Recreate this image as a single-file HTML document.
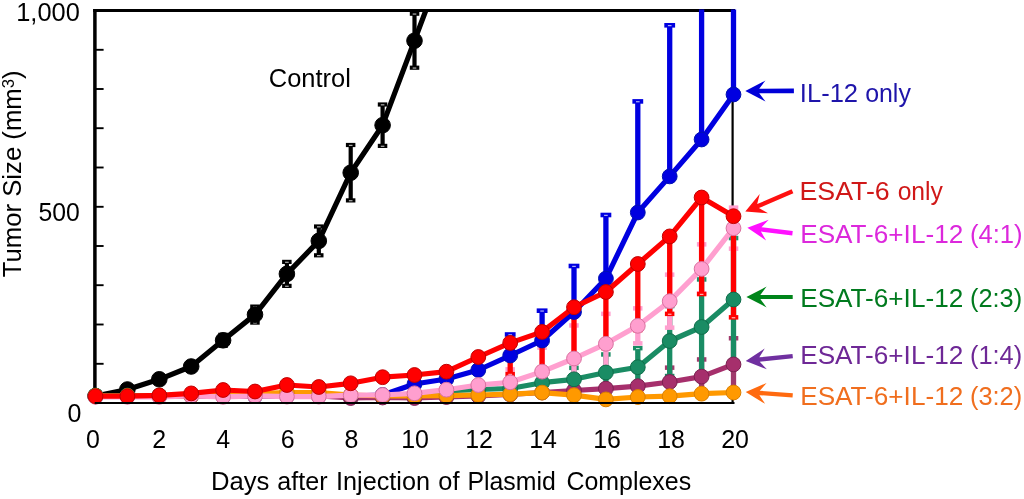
<!DOCTYPE html>
<html><head><meta charset="utf-8"><style>
html,body{margin:0;padding:0;background:#fff;}
body{width:1024px;height:499px;overflow:hidden;}
svg{display:block;will-change:transform;font-family:"Liberation Sans", sans-serif;font-size:26px;}
</style></head><body>
<svg width="1024" height="499" viewBox="0 0 1024 499">
<defs><clipPath id="plot"><rect x="0" y="9.5" width="1024" height="499"/></clipPath></defs>
<g fill="none" stroke="#000">
<line x1="94.9" y1="9.0" x2="94.9" y2="403.5" stroke-width="3.5"/>
<line x1="93.2" y1="10.5" x2="735" y2="10.5" stroke-width="2.9"/>
<line x1="732.6" y1="10.5" x2="732.6" y2="403" stroke-width="2.2"/>
<line x1="95" y1="363.8" x2="103.6" y2="363.8" stroke-width="1.9"/>
<line x1="95" y1="324.5" x2="103.6" y2="324.5" stroke-width="1.9"/>
<line x1="95" y1="285.2" x2="103.6" y2="285.2" stroke-width="1.9"/>
<line x1="95" y1="246.0" x2="103.6" y2="246.0" stroke-width="1.9"/>
<line x1="95" y1="206.8" x2="103.6" y2="206.8" stroke-width="1.9"/>
<line x1="95" y1="167.5" x2="103.6" y2="167.5" stroke-width="1.9"/>
<line x1="95" y1="128.2" x2="103.6" y2="128.2" stroke-width="1.9"/>
<line x1="95" y1="89.0" x2="103.6" y2="89.0" stroke-width="1.9"/>
<line x1="95" y1="49.8" x2="103.6" y2="49.8" stroke-width="1.9"/>
</g>
<g clip-path="url(#plot)">
<line x1="669.7" y1="367.6" x2="669.7" y2="396.4" stroke="#a03a6c" stroke-width="5.3"/>
<rect x="664.9" y="365.4" width="9.5" height="4.5" fill="#a03a6c"/>
<rect x="667.9" y="367.4" width="3.6" height="1.1" fill="#fff" fill-opacity="0.75"/>
<rect x="664.9" y="394.1" width="9.5" height="4.5" fill="#a03a6c"/>
<rect x="667.9" y="396.2" width="3.6" height="1.1" fill="#fff" fill-opacity="0.75"/>
<line x1="701.6" y1="359.5" x2="701.6" y2="393.7" stroke="#a03a6c" stroke-width="5.3"/>
<rect x="696.9" y="357.2" width="9.5" height="4.5" fill="#a03a6c"/>
<rect x="699.8" y="359.3" width="3.6" height="1.1" fill="#fff" fill-opacity="0.75"/>
<rect x="696.9" y="391.5" width="9.5" height="4.5" fill="#a03a6c"/>
<rect x="699.8" y="393.5" width="3.6" height="1.1" fill="#fff" fill-opacity="0.75"/>
<line x1="733.5" y1="338.3" x2="733.5" y2="390.5" stroke="#a03a6c" stroke-width="5.3"/>
<rect x="728.8" y="336.0" width="9.5" height="4.5" fill="#a03a6c"/>
<rect x="731.7" y="338.1" width="3.6" height="1.1" fill="#fff" fill-opacity="0.75"/>
<rect x="728.8" y="388.2" width="9.5" height="4.5" fill="#a03a6c"/>
<rect x="731.7" y="390.3" width="3.6" height="1.1" fill="#fff" fill-opacity="0.75"/>
<line x1="574.0" y1="367.8" x2="574.0" y2="390.8" stroke="#1a8c64" stroke-width="5.3"/>
<rect x="569.2" y="365.6" width="9.5" height="4.5" fill="#1a8c64"/>
<rect x="572.2" y="367.6" width="3.6" height="1.1" fill="#fff" fill-opacity="0.75"/>
<rect x="569.2" y="388.6" width="9.5" height="4.5" fill="#1a8c64"/>
<rect x="572.2" y="390.6" width="3.6" height="1.1" fill="#fff" fill-opacity="0.75"/>
<line x1="605.9" y1="354.5" x2="605.9" y2="390.5" stroke="#1a8c64" stroke-width="5.3"/>
<rect x="601.1" y="352.2" width="9.5" height="4.5" fill="#1a8c64"/>
<rect x="604.1" y="354.3" width="3.6" height="1.1" fill="#fff" fill-opacity="0.75"/>
<rect x="601.1" y="388.2" width="9.5" height="4.5" fill="#1a8c64"/>
<rect x="604.1" y="390.3" width="3.6" height="1.1" fill="#fff" fill-opacity="0.75"/>
<line x1="637.8" y1="348.2" x2="637.8" y2="386.2" stroke="#1a8c64" stroke-width="5.3"/>
<rect x="633.0" y="345.9" width="9.5" height="4.5" fill="#1a8c64"/>
<rect x="636.0" y="348.0" width="3.6" height="1.1" fill="#fff" fill-opacity="0.75"/>
<rect x="633.0" y="383.9" width="9.5" height="4.5" fill="#1a8c64"/>
<rect x="636.0" y="386.0" width="3.6" height="1.1" fill="#fff" fill-opacity="0.75"/>
<line x1="669.7" y1="306.0" x2="669.7" y2="376.0" stroke="#1a8c64" stroke-width="5.3"/>
<rect x="664.9" y="303.8" width="9.5" height="4.5" fill="#1a8c64"/>
<rect x="667.9" y="305.8" width="3.6" height="1.1" fill="#fff" fill-opacity="0.75"/>
<rect x="664.9" y="373.8" width="9.5" height="4.5" fill="#1a8c64"/>
<rect x="667.9" y="375.8" width="3.6" height="1.1" fill="#fff" fill-opacity="0.75"/>
<line x1="701.6" y1="279.5" x2="701.6" y2="374.5" stroke="#1a8c64" stroke-width="5.3"/>
<rect x="696.9" y="277.2" width="9.5" height="4.5" fill="#1a8c64"/>
<rect x="699.8" y="279.3" width="3.6" height="1.1" fill="#fff" fill-opacity="0.75"/>
<rect x="696.9" y="372.2" width="9.5" height="4.5" fill="#1a8c64"/>
<rect x="699.8" y="374.3" width="3.6" height="1.1" fill="#fff" fill-opacity="0.75"/>
<line x1="733.5" y1="238.1" x2="733.5" y2="360.9" stroke="#1a8c64" stroke-width="5.3"/>
<rect x="728.8" y="235.8" width="9.5" height="4.5" fill="#1a8c64"/>
<rect x="731.7" y="237.9" width="3.6" height="1.1" fill="#fff" fill-opacity="0.75"/>
<rect x="728.8" y="358.6" width="9.5" height="4.5" fill="#1a8c64"/>
<rect x="731.7" y="360.7" width="3.6" height="1.1" fill="#fff" fill-opacity="0.75"/>
<line x1="510.2" y1="369.3" x2="510.2" y2="395.3" stroke="#ff9fcf" stroke-width="5.3"/>
<rect x="505.4" y="367.1" width="9.5" height="4.5" fill="#ff9fcf"/>
<rect x="505.4" y="393.1" width="9.5" height="4.5" fill="#ff9fcf"/>
<line x1="542.1" y1="347.6" x2="542.1" y2="395.6" stroke="#ff9fcf" stroke-width="5.3"/>
<rect x="537.3" y="345.4" width="9.5" height="4.5" fill="#ff9fcf"/>
<rect x="537.3" y="393.4" width="9.5" height="4.5" fill="#ff9fcf"/>
<line x1="574.0" y1="325.5" x2="574.0" y2="391.5" stroke="#ff9fcf" stroke-width="5.3"/>
<rect x="569.2" y="323.2" width="9.5" height="4.5" fill="#ff9fcf"/>
<rect x="569.2" y="389.2" width="9.5" height="4.5" fill="#ff9fcf"/>
<line x1="605.9" y1="313.8" x2="605.9" y2="373.8" stroke="#ff9fcf" stroke-width="5.3"/>
<rect x="601.1" y="311.6" width="9.5" height="4.5" fill="#ff9fcf"/>
<rect x="601.1" y="371.6" width="9.5" height="4.5" fill="#ff9fcf"/>
<line x1="637.8" y1="308.3" x2="637.8" y2="343.3" stroke="#ff9fcf" stroke-width="5.3"/>
<rect x="633.0" y="306.1" width="9.5" height="4.5" fill="#ff9fcf"/>
<rect x="633.0" y="341.1" width="9.5" height="4.5" fill="#ff9fcf"/>
<line x1="669.7" y1="274.7" x2="669.7" y2="327.7" stroke="#ff9fcf" stroke-width="5.3"/>
<rect x="664.9" y="272.4" width="9.5" height="4.5" fill="#ff9fcf"/>
<rect x="664.9" y="325.4" width="9.5" height="4.5" fill="#ff9fcf"/>
<line x1="701.6" y1="244.4" x2="701.6" y2="293.4" stroke="#ff9fcf" stroke-width="5.3"/>
<rect x="696.9" y="242.1" width="9.5" height="4.5" fill="#ff9fcf"/>
<rect x="696.9" y="291.1" width="9.5" height="4.5" fill="#ff9fcf"/>
<line x1="733.5" y1="207.7" x2="733.5" y2="248.7" stroke="#ff9fcf" stroke-width="5.3"/>
<rect x="728.8" y="205.4" width="9.5" height="4.5" fill="#ff9fcf"/>
<rect x="728.8" y="246.4" width="9.5" height="4.5" fill="#ff9fcf"/>
<line x1="510.2" y1="342.9" x2="510.2" y2="374.0" stroke="#ff0000" stroke-width="5.3"/>
<rect x="505.4" y="371.8" width="9.5" height="4.5" fill="#ff0000"/>
<rect x="508.4" y="373.8" width="3.6" height="1.1" fill="#fff" fill-opacity="0.75"/>
<line x1="542.1" y1="331.9" x2="542.1" y2="368.0" stroke="#ff0000" stroke-width="5.3"/>
<rect x="537.3" y="365.8" width="9.5" height="4.5" fill="#ff0000"/>
<rect x="540.3" y="367.8" width="3.6" height="1.1" fill="#fff" fill-opacity="0.75"/>
<line x1="574.0" y1="307.2" x2="574.0" y2="360.0" stroke="#ff0000" stroke-width="5.3"/>
<rect x="569.2" y="357.8" width="9.5" height="4.5" fill="#ff0000"/>
<rect x="572.2" y="359.8" width="3.6" height="1.1" fill="#fff" fill-opacity="0.75"/>
<line x1="605.9" y1="292.0" x2="605.9" y2="348.0" stroke="#ff0000" stroke-width="5.3"/>
<rect x="601.1" y="345.8" width="9.5" height="4.5" fill="#ff0000"/>
<rect x="604.1" y="347.8" width="3.6" height="1.1" fill="#fff" fill-opacity="0.75"/>
<line x1="637.8" y1="264.0" x2="637.8" y2="330.0" stroke="#ff0000" stroke-width="5.3"/>
<rect x="633.0" y="327.8" width="9.5" height="4.5" fill="#ff0000"/>
<rect x="636.0" y="329.8" width="3.6" height="1.1" fill="#fff" fill-opacity="0.75"/>
<line x1="669.7" y1="236.4" x2="669.7" y2="313.9" stroke="#ff0000" stroke-width="5.3"/>
<rect x="664.9" y="311.6" width="9.5" height="4.5" fill="#ff0000"/>
<rect x="667.9" y="313.7" width="3.6" height="1.1" fill="#fff" fill-opacity="0.75"/>
<line x1="701.6" y1="197.5" x2="701.6" y2="294.0" stroke="#ff0000" stroke-width="5.3"/>
<rect x="696.9" y="291.8" width="9.5" height="4.5" fill="#ff0000"/>
<rect x="699.8" y="293.8" width="3.6" height="1.1" fill="#fff" fill-opacity="0.75"/>
<line x1="733.5" y1="216.2" x2="733.5" y2="317.4" stroke="#ff0000" stroke-width="5.3"/>
<rect x="728.8" y="315.1" width="9.5" height="4.5" fill="#ff0000"/>
<rect x="731.7" y="317.2" width="3.6" height="1.1" fill="#fff" fill-opacity="0.75"/>
<line x1="510.2" y1="334.5" x2="510.2" y2="355.5" stroke="#0000e0" stroke-width="5.3"/>
<rect x="504.8" y="332.2" width="10.8" height="4.6" fill="#0000e0"/>
<rect x="508.4" y="334.3" width="3.6" height="1.1" fill="#fff" fill-opacity="0.75"/>
<line x1="542.1" y1="310.7" x2="542.1" y2="340.5" stroke="#0000e0" stroke-width="5.3"/>
<rect x="536.7" y="308.4" width="10.8" height="4.6" fill="#0000e0"/>
<rect x="540.3" y="310.5" width="3.6" height="1.1" fill="#fff" fill-opacity="0.75"/>
<line x1="574.0" y1="266.0" x2="574.0" y2="312.0" stroke="#0000e0" stroke-width="5.3"/>
<rect x="568.6" y="263.7" width="10.8" height="4.6" fill="#0000e0"/>
<rect x="572.2" y="265.8" width="3.6" height="1.1" fill="#fff" fill-opacity="0.75"/>
<line x1="605.9" y1="215.0" x2="605.9" y2="278.6" stroke="#0000e0" stroke-width="5.3"/>
<rect x="600.5" y="212.7" width="10.8" height="4.6" fill="#0000e0"/>
<rect x="604.1" y="214.8" width="3.6" height="1.1" fill="#fff" fill-opacity="0.75"/>
<line x1="637.8" y1="101.4" x2="637.8" y2="212.5" stroke="#0000e0" stroke-width="5.3"/>
<rect x="632.4" y="99.1" width="10.8" height="4.6" fill="#0000e0"/>
<rect x="636.0" y="101.2" width="3.6" height="1.1" fill="#fff" fill-opacity="0.75"/>
<line x1="669.7" y1="25.3" x2="669.7" y2="176.4" stroke="#0000e0" stroke-width="5.3"/>
<rect x="664.3" y="23.0" width="10.8" height="4.6" fill="#0000e0"/>
<rect x="667.9" y="25.1" width="3.6" height="1.1" fill="#fff" fill-opacity="0.75"/>
<line x1="701.6" y1="0.0" x2="701.6" y2="139.5" stroke="#0000e0" stroke-width="5.3"/>
<rect x="696.2" y="-2.3" width="10.8" height="4.6" fill="#0000e0"/>
<rect x="699.8" y="-0.2" width="3.6" height="1.1" fill="#fff" fill-opacity="0.75"/>
<line x1="733.5" y1="0.0" x2="733.5" y2="94.5" stroke="#0000e0" stroke-width="5.3"/>
<rect x="728.1" y="-2.3" width="10.8" height="4.6" fill="#0000e0"/>
<rect x="731.7" y="-0.2" width="3.6" height="1.1" fill="#fff" fill-opacity="0.75"/>
<line x1="127.4" y1="387.5" x2="127.4" y2="391.5" stroke="#000" stroke-width="4.2"/>
<rect x="122.7" y="385.4" width="9.5" height="4.2" fill="#000"/>
<rect x="125.6" y="387.3" width="3.6" height="1.1" fill="#fff" fill-opacity="0.75"/>
<rect x="122.7" y="389.4" width="9.5" height="4.2" fill="#000"/>
<rect x="125.6" y="391.3" width="3.6" height="1.1" fill="#fff" fill-opacity="0.75"/>
<line x1="159.3" y1="376.3" x2="159.3" y2="382.3" stroke="#000" stroke-width="4.2"/>
<rect x="154.6" y="374.2" width="9.5" height="4.2" fill="#000"/>
<rect x="157.5" y="376.1" width="3.6" height="1.1" fill="#fff" fill-opacity="0.75"/>
<rect x="154.6" y="380.2" width="9.5" height="4.2" fill="#000"/>
<rect x="157.5" y="382.1" width="3.6" height="1.1" fill="#fff" fill-opacity="0.75"/>
<line x1="191.2" y1="362.5" x2="191.2" y2="370.5" stroke="#000" stroke-width="4.2"/>
<rect x="186.4" y="360.4" width="9.5" height="4.2" fill="#000"/>
<rect x="189.4" y="362.3" width="3.6" height="1.1" fill="#fff" fill-opacity="0.75"/>
<rect x="186.4" y="368.4" width="9.5" height="4.2" fill="#000"/>
<rect x="189.4" y="370.3" width="3.6" height="1.1" fill="#fff" fill-opacity="0.75"/>
<line x1="223.1" y1="334.8" x2="223.1" y2="345.8" stroke="#000" stroke-width="4.2"/>
<rect x="218.3" y="332.7" width="9.5" height="4.2" fill="#000"/>
<rect x="221.3" y="334.6" width="3.6" height="1.1" fill="#fff" fill-opacity="0.75"/>
<rect x="218.3" y="343.7" width="9.5" height="4.2" fill="#000"/>
<rect x="221.3" y="345.6" width="3.6" height="1.1" fill="#fff" fill-opacity="0.75"/>
<line x1="255.0" y1="306.6" x2="255.0" y2="322.6" stroke="#000" stroke-width="4.2"/>
<rect x="250.2" y="304.5" width="9.5" height="4.2" fill="#000"/>
<rect x="253.2" y="306.4" width="3.6" height="1.1" fill="#fff" fill-opacity="0.75"/>
<rect x="250.2" y="320.5" width="9.5" height="4.2" fill="#000"/>
<rect x="253.2" y="322.4" width="3.6" height="1.1" fill="#fff" fill-opacity="0.75"/>
<line x1="286.9" y1="261.9" x2="286.9" y2="285.9" stroke="#000" stroke-width="4.2"/>
<rect x="282.1" y="259.8" width="9.5" height="4.2" fill="#000"/>
<rect x="285.1" y="261.7" width="3.6" height="1.1" fill="#fff" fill-opacity="0.75"/>
<rect x="282.1" y="283.8" width="9.5" height="4.2" fill="#000"/>
<rect x="285.1" y="285.7" width="3.6" height="1.1" fill="#fff" fill-opacity="0.75"/>
<line x1="318.8" y1="226.5" x2="318.8" y2="255.3" stroke="#000" stroke-width="4.2"/>
<rect x="314.0" y="224.4" width="9.5" height="4.2" fill="#000"/>
<rect x="317.0" y="226.3" width="3.6" height="1.1" fill="#fff" fill-opacity="0.75"/>
<rect x="314.0" y="253.2" width="9.5" height="4.2" fill="#000"/>
<rect x="317.0" y="255.1" width="3.6" height="1.1" fill="#fff" fill-opacity="0.75"/>
<line x1="350.7" y1="145.0" x2="350.7" y2="200.4" stroke="#000" stroke-width="4.2"/>
<rect x="345.9" y="142.9" width="9.5" height="4.2" fill="#000"/>
<rect x="348.9" y="144.8" width="3.6" height="1.1" fill="#fff" fill-opacity="0.75"/>
<rect x="345.9" y="198.3" width="9.5" height="4.2" fill="#000"/>
<rect x="348.9" y="200.2" width="3.6" height="1.1" fill="#fff" fill-opacity="0.75"/>
<line x1="382.6" y1="104.5" x2="382.6" y2="145.9" stroke="#000" stroke-width="4.2"/>
<rect x="377.8" y="102.4" width="9.5" height="4.2" fill="#000"/>
<rect x="380.8" y="104.3" width="3.6" height="1.1" fill="#fff" fill-opacity="0.75"/>
<rect x="377.8" y="143.8" width="9.5" height="4.2" fill="#000"/>
<rect x="380.8" y="145.7" width="3.6" height="1.1" fill="#fff" fill-opacity="0.75"/>
<line x1="414.5" y1="13.7" x2="414.5" y2="67.7" stroke="#000" stroke-width="4.2"/>
<rect x="409.8" y="11.6" width="9.5" height="4.2" fill="#000"/>
<rect x="412.7" y="13.5" width="3.6" height="1.1" fill="#fff" fill-opacity="0.75"/>
<rect x="409.8" y="65.6" width="9.5" height="4.2" fill="#000"/>
<rect x="412.7" y="67.5" width="3.6" height="1.1" fill="#fff" fill-opacity="0.75"/>
<polyline points="95.5,396.0 127.4,389.5 159.3,379.3 191.2,366.5 223.1,340.3 255.0,314.6 286.9,273.9 318.8,240.9 350.7,172.7 382.6,125.2 414.5,40.7 446.4,-44.5" fill="none" stroke="#000" stroke-width="5.2" stroke-linejoin="round"/>
<circle cx="95.5" cy="396.0" r="7.800000000000001" fill="#000" stroke="#000" stroke-width="1"/>
<circle cx="127.4" cy="389.5" r="7.800000000000001" fill="#000" stroke="#000" stroke-width="1"/>
<circle cx="159.3" cy="379.3" r="7.800000000000001" fill="#000" stroke="#000" stroke-width="1"/>
<circle cx="191.2" cy="366.5" r="7.800000000000001" fill="#000" stroke="#000" stroke-width="1"/>
<circle cx="223.1" cy="340.3" r="7.800000000000001" fill="#000" stroke="#000" stroke-width="1"/>
<circle cx="255.0" cy="314.6" r="7.800000000000001" fill="#000" stroke="#000" stroke-width="1"/>
<circle cx="286.9" cy="273.9" r="7.800000000000001" fill="#000" stroke="#000" stroke-width="1"/>
<circle cx="318.8" cy="240.9" r="7.800000000000001" fill="#000" stroke="#000" stroke-width="1"/>
<circle cx="350.7" cy="172.7" r="7.800000000000001" fill="#000" stroke="#000" stroke-width="1"/>
<circle cx="382.6" cy="125.2" r="7.800000000000001" fill="#000" stroke="#000" stroke-width="1"/>
<circle cx="414.5" cy="40.7" r="7.800000000000001" fill="#000" stroke="#000" stroke-width="1"/>
<polyline points="95.5,396.0 127.4,396.0 159.3,396.0 191.2,396.0 223.1,396.0 255.0,396.0 286.9,396.0 318.8,396.0 350.7,396.0 382.6,395.0 414.5,384.0 446.4,379.0 478.3,370.0 510.2,355.5 542.1,340.5 574.0,312.0 605.9,278.6 637.8,212.5 669.7,176.4 701.6,139.5 733.5,94.5" fill="none" stroke="#0000e0" stroke-width="5.2" stroke-linejoin="round"/>
<circle cx="95.5" cy="396.0" r="7.4" fill="#0000e0" stroke="#0010b0" stroke-width="1"/>
<circle cx="127.4" cy="396.0" r="7.4" fill="#0000e0" stroke="#0010b0" stroke-width="1"/>
<circle cx="159.3" cy="396.0" r="7.4" fill="#0000e0" stroke="#0010b0" stroke-width="1"/>
<circle cx="191.2" cy="396.0" r="7.4" fill="#0000e0" stroke="#0010b0" stroke-width="1"/>
<circle cx="223.1" cy="396.0" r="7.4" fill="#0000e0" stroke="#0010b0" stroke-width="1"/>
<circle cx="255.0" cy="396.0" r="7.4" fill="#0000e0" stroke="#0010b0" stroke-width="1"/>
<circle cx="286.9" cy="396.0" r="7.4" fill="#0000e0" stroke="#0010b0" stroke-width="1"/>
<circle cx="318.8" cy="396.0" r="7.4" fill="#0000e0" stroke="#0010b0" stroke-width="1"/>
<circle cx="350.7" cy="396.0" r="7.4" fill="#0000e0" stroke="#0010b0" stroke-width="1"/>
<circle cx="382.6" cy="395.0" r="7.4" fill="#0000e0" stroke="#0010b0" stroke-width="1"/>
<circle cx="414.5" cy="384.0" r="7.4" fill="#0000e0" stroke="#0010b0" stroke-width="1"/>
<circle cx="446.4" cy="379.0" r="7.4" fill="#0000e0" stroke="#0010b0" stroke-width="1"/>
<circle cx="478.3" cy="370.0" r="7.4" fill="#0000e0" stroke="#0010b0" stroke-width="1"/>
<circle cx="510.2" cy="355.5" r="7.4" fill="#0000e0" stroke="#0010b0" stroke-width="1"/>
<circle cx="542.1" cy="340.5" r="7.4" fill="#0000e0" stroke="#0010b0" stroke-width="1"/>
<circle cx="574.0" cy="312.0" r="7.4" fill="#0000e0" stroke="#0010b0" stroke-width="1"/>
<circle cx="605.9" cy="278.6" r="7.4" fill="#0000e0" stroke="#0010b0" stroke-width="1"/>
<circle cx="637.8" cy="212.5" r="7.4" fill="#0000e0" stroke="#0010b0" stroke-width="1"/>
<circle cx="669.7" cy="176.4" r="7.4" fill="#0000e0" stroke="#0010b0" stroke-width="1"/>
<circle cx="701.6" cy="139.5" r="7.4" fill="#0000e0" stroke="#0010b0" stroke-width="1"/>
<circle cx="733.5" cy="94.5" r="7.4" fill="#0000e0" stroke="#0010b0" stroke-width="1"/>
<polyline points="95.5,396.0 127.4,396.0 159.3,396.0 191.2,396.0 223.1,396.0 255.0,396.0 286.9,396.0 318.8,396.0 350.7,398.0 382.6,397.5 414.5,398.0 446.4,397.0 478.3,396.0 510.2,394.5 542.1,392.5 574.0,390.5 605.9,388.6 637.8,386.2 669.7,382.0 701.6,376.6 733.5,364.4" fill="none" stroke="#a62f6c" stroke-width="5.2" stroke-linejoin="round"/>
<circle cx="95.5" cy="396.0" r="7.4" fill="#a62f6c" stroke="#7a2050" stroke-width="1"/>
<circle cx="127.4" cy="396.0" r="7.4" fill="#a62f6c" stroke="#7a2050" stroke-width="1"/>
<circle cx="159.3" cy="396.0" r="7.4" fill="#a62f6c" stroke="#7a2050" stroke-width="1"/>
<circle cx="191.2" cy="396.0" r="7.4" fill="#a62f6c" stroke="#7a2050" stroke-width="1"/>
<circle cx="223.1" cy="396.0" r="7.4" fill="#a62f6c" stroke="#7a2050" stroke-width="1"/>
<circle cx="255.0" cy="396.0" r="7.4" fill="#a62f6c" stroke="#7a2050" stroke-width="1"/>
<circle cx="286.9" cy="396.0" r="7.4" fill="#a62f6c" stroke="#7a2050" stroke-width="1"/>
<circle cx="318.8" cy="396.0" r="7.4" fill="#a62f6c" stroke="#7a2050" stroke-width="1"/>
<circle cx="350.7" cy="398.0" r="7.4" fill="#a62f6c" stroke="#7a2050" stroke-width="1"/>
<circle cx="382.6" cy="397.5" r="7.4" fill="#a62f6c" stroke="#7a2050" stroke-width="1"/>
<circle cx="414.5" cy="398.0" r="7.4" fill="#a62f6c" stroke="#7a2050" stroke-width="1"/>
<circle cx="446.4" cy="397.0" r="7.4" fill="#a62f6c" stroke="#7a2050" stroke-width="1"/>
<circle cx="478.3" cy="396.0" r="7.4" fill="#a62f6c" stroke="#7a2050" stroke-width="1"/>
<circle cx="510.2" cy="394.5" r="7.4" fill="#a62f6c" stroke="#7a2050" stroke-width="1"/>
<circle cx="542.1" cy="392.5" r="7.4" fill="#a62f6c" stroke="#7a2050" stroke-width="1"/>
<circle cx="574.0" cy="390.5" r="7.4" fill="#a62f6c" stroke="#7a2050" stroke-width="1"/>
<circle cx="605.9" cy="388.6" r="7.4" fill="#a62f6c" stroke="#7a2050" stroke-width="1"/>
<circle cx="637.8" cy="386.2" r="7.4" fill="#a62f6c" stroke="#7a2050" stroke-width="1"/>
<circle cx="669.7" cy="382.0" r="7.4" fill="#a62f6c" stroke="#7a2050" stroke-width="1"/>
<circle cx="701.6" cy="376.6" r="7.4" fill="#a62f6c" stroke="#7a2050" stroke-width="1"/>
<circle cx="733.5" cy="364.4" r="7.4" fill="#a62f6c" stroke="#7a2050" stroke-width="1"/>
<polyline points="95.5,395.5 127.4,395.5 159.3,395.5 191.2,395.5 223.1,395.5 255.0,395.5 286.9,395.5 318.8,395.5 350.7,395.5 382.6,395.5 414.5,395.5 446.4,391.0 478.3,389.5 510.2,388.5 542.1,382.7 574.0,379.3 605.9,372.5 637.8,367.2 669.7,341.0 701.6,327.0 733.5,299.5" fill="none" stroke="#1a8c64" stroke-width="5.2" stroke-linejoin="round"/>
<circle cx="95.5" cy="395.5" r="7.4" fill="#1a8c64" stroke="#0f6d4a" stroke-width="1"/>
<circle cx="127.4" cy="395.5" r="7.4" fill="#1a8c64" stroke="#0f6d4a" stroke-width="1"/>
<circle cx="159.3" cy="395.5" r="7.4" fill="#1a8c64" stroke="#0f6d4a" stroke-width="1"/>
<circle cx="191.2" cy="395.5" r="7.4" fill="#1a8c64" stroke="#0f6d4a" stroke-width="1"/>
<circle cx="223.1" cy="395.5" r="7.4" fill="#1a8c64" stroke="#0f6d4a" stroke-width="1"/>
<circle cx="255.0" cy="395.5" r="7.4" fill="#1a8c64" stroke="#0f6d4a" stroke-width="1"/>
<circle cx="286.9" cy="395.5" r="7.4" fill="#1a8c64" stroke="#0f6d4a" stroke-width="1"/>
<circle cx="318.8" cy="395.5" r="7.4" fill="#1a8c64" stroke="#0f6d4a" stroke-width="1"/>
<circle cx="350.7" cy="395.5" r="7.4" fill="#1a8c64" stroke="#0f6d4a" stroke-width="1"/>
<circle cx="382.6" cy="395.5" r="7.4" fill="#1a8c64" stroke="#0f6d4a" stroke-width="1"/>
<circle cx="414.5" cy="395.5" r="7.4" fill="#1a8c64" stroke="#0f6d4a" stroke-width="1"/>
<circle cx="446.4" cy="391.0" r="7.4" fill="#1a8c64" stroke="#0f6d4a" stroke-width="1"/>
<circle cx="478.3" cy="389.5" r="7.4" fill="#1a8c64" stroke="#0f6d4a" stroke-width="1"/>
<circle cx="510.2" cy="388.5" r="7.4" fill="#1a8c64" stroke="#0f6d4a" stroke-width="1"/>
<circle cx="542.1" cy="382.7" r="7.4" fill="#1a8c64" stroke="#0f6d4a" stroke-width="1"/>
<circle cx="574.0" cy="379.3" r="7.4" fill="#1a8c64" stroke="#0f6d4a" stroke-width="1"/>
<circle cx="605.9" cy="372.5" r="7.4" fill="#1a8c64" stroke="#0f6d4a" stroke-width="1"/>
<circle cx="637.8" cy="367.2" r="7.4" fill="#1a8c64" stroke="#0f6d4a" stroke-width="1"/>
<circle cx="669.7" cy="341.0" r="7.4" fill="#1a8c64" stroke="#0f6d4a" stroke-width="1"/>
<circle cx="701.6" cy="327.0" r="7.4" fill="#1a8c64" stroke="#0f6d4a" stroke-width="1"/>
<circle cx="733.5" cy="299.5" r="7.4" fill="#1a8c64" stroke="#0f6d4a" stroke-width="1"/>
<polyline points="95.5,396.0 127.4,396.0 159.3,396.0 191.2,396.0 223.1,395.0 255.0,393.5 286.9,392.5 318.8,392.5 350.7,395.0 382.6,396.0 414.5,396.0 446.4,395.6 478.3,395.0 510.2,394.2 542.1,392.6 574.0,395.2 605.9,399.4 637.8,397.0 669.7,396.2 701.6,393.7 733.5,392.5" fill="none" stroke="#ff9900" stroke-width="5.2" stroke-linejoin="round"/>
<circle cx="95.5" cy="396.0" r="7.4" fill="#ff9900" stroke="#d97f00" stroke-width="1"/>
<circle cx="127.4" cy="396.0" r="7.4" fill="#ff9900" stroke="#d97f00" stroke-width="1"/>
<circle cx="159.3" cy="396.0" r="7.4" fill="#ff9900" stroke="#d97f00" stroke-width="1"/>
<circle cx="191.2" cy="396.0" r="7.4" fill="#ff9900" stroke="#d97f00" stroke-width="1"/>
<circle cx="223.1" cy="395.0" r="7.4" fill="#ff9900" stroke="#d97f00" stroke-width="1"/>
<circle cx="255.0" cy="393.5" r="7.4" fill="#ff9900" stroke="#d97f00" stroke-width="1"/>
<circle cx="286.9" cy="392.5" r="7.4" fill="#ff9900" stroke="#d97f00" stroke-width="1"/>
<circle cx="318.8" cy="392.5" r="7.4" fill="#ff9900" stroke="#d97f00" stroke-width="1"/>
<circle cx="350.7" cy="395.0" r="7.4" fill="#ff9900" stroke="#d97f00" stroke-width="1"/>
<circle cx="382.6" cy="396.0" r="7.4" fill="#ff9900" stroke="#d97f00" stroke-width="1"/>
<circle cx="414.5" cy="396.0" r="7.4" fill="#ff9900" stroke="#d97f00" stroke-width="1"/>
<circle cx="446.4" cy="395.6" r="7.4" fill="#ff9900" stroke="#d97f00" stroke-width="1"/>
<circle cx="478.3" cy="395.0" r="7.4" fill="#ff9900" stroke="#d97f00" stroke-width="1"/>
<circle cx="510.2" cy="394.2" r="7.4" fill="#ff9900" stroke="#d97f00" stroke-width="1"/>
<circle cx="542.1" cy="392.6" r="7.4" fill="#ff9900" stroke="#d97f00" stroke-width="1"/>
<circle cx="574.0" cy="395.2" r="7.4" fill="#ff9900" stroke="#d97f00" stroke-width="1"/>
<circle cx="605.9" cy="399.4" r="7.4" fill="#ff9900" stroke="#d97f00" stroke-width="1"/>
<circle cx="637.8" cy="397.0" r="7.4" fill="#ff9900" stroke="#d97f00" stroke-width="1"/>
<circle cx="669.7" cy="396.2" r="7.4" fill="#ff9900" stroke="#d97f00" stroke-width="1"/>
<circle cx="701.6" cy="393.7" r="7.4" fill="#ff9900" stroke="#d97f00" stroke-width="1"/>
<circle cx="733.5" cy="392.5" r="7.4" fill="#ff9900" stroke="#d97f00" stroke-width="1"/>
<polyline points="95.5,396.8 127.4,396.8 159.3,396.8 191.2,395.8 223.1,396.8 255.0,395.8 286.9,396.6 318.8,396.6 350.7,395.2 382.6,395.0 414.5,393.3 446.4,389.7 478.3,385.0 510.2,382.3 542.1,371.6 574.0,358.5 605.9,343.8 637.8,325.8 669.7,301.2 701.6,268.9 733.5,228.2" fill="none" stroke="#ff9fcf" stroke-width="5.2" stroke-linejoin="round"/>
<circle cx="95.5" cy="396.8" r="7.4" fill="#ff9fcf" stroke="#d9709f" stroke-width="1"/>
<circle cx="127.4" cy="396.8" r="7.4" fill="#ff9fcf" stroke="#d9709f" stroke-width="1"/>
<circle cx="159.3" cy="396.8" r="7.4" fill="#ff9fcf" stroke="#d9709f" stroke-width="1"/>
<circle cx="191.2" cy="395.8" r="7.4" fill="#ff9fcf" stroke="#d9709f" stroke-width="1"/>
<circle cx="223.1" cy="396.8" r="7.4" fill="#ff9fcf" stroke="#d9709f" stroke-width="1"/>
<circle cx="255.0" cy="395.8" r="7.4" fill="#ff9fcf" stroke="#d9709f" stroke-width="1"/>
<circle cx="286.9" cy="396.6" r="7.4" fill="#ff9fcf" stroke="#d9709f" stroke-width="1"/>
<circle cx="318.8" cy="396.6" r="7.4" fill="#ff9fcf" stroke="#d9709f" stroke-width="1"/>
<circle cx="350.7" cy="395.2" r="7.4" fill="#ff9fcf" stroke="#d9709f" stroke-width="1"/>
<circle cx="382.6" cy="395.0" r="7.4" fill="#ff9fcf" stroke="#d9709f" stroke-width="1"/>
<circle cx="414.5" cy="393.3" r="7.4" fill="#ff9fcf" stroke="#d9709f" stroke-width="1"/>
<circle cx="446.4" cy="389.7" r="7.4" fill="#ff9fcf" stroke="#d9709f" stroke-width="1"/>
<circle cx="478.3" cy="385.0" r="7.4" fill="#ff9fcf" stroke="#d9709f" stroke-width="1"/>
<circle cx="510.2" cy="382.3" r="7.4" fill="#ff9fcf" stroke="#d9709f" stroke-width="1"/>
<circle cx="542.1" cy="371.6" r="7.4" fill="#ff9fcf" stroke="#d9709f" stroke-width="1"/>
<circle cx="574.0" cy="358.5" r="7.4" fill="#ff9fcf" stroke="#d9709f" stroke-width="1"/>
<circle cx="605.9" cy="343.8" r="7.4" fill="#ff9fcf" stroke="#d9709f" stroke-width="1"/>
<circle cx="637.8" cy="325.8" r="7.4" fill="#ff9fcf" stroke="#d9709f" stroke-width="1"/>
<circle cx="669.7" cy="301.2" r="7.4" fill="#ff9fcf" stroke="#d9709f" stroke-width="1"/>
<circle cx="701.6" cy="268.9" r="7.4" fill="#ff9fcf" stroke="#d9709f" stroke-width="1"/>
<circle cx="733.5" cy="228.2" r="7.4" fill="#ff9fcf" stroke="#d9709f" stroke-width="1"/>
<polyline points="95.5,396.2 127.4,396.2 159.3,395.4 191.2,393.4 223.1,390.0 255.0,391.5 286.9,385.0 318.8,387.0 350.7,383.3 382.6,377.2 414.5,375.0 446.4,371.7 478.3,357.0 510.2,342.9 542.1,331.9 574.0,307.2 605.9,292.0 637.8,264.0 669.7,236.4 701.6,197.5 733.5,216.2" fill="none" stroke="#ff0000" stroke-width="5.2" stroke-linejoin="round"/>
<circle cx="95.5" cy="396.2" r="7.4" fill="#ff0000" stroke="#c00000" stroke-width="1"/>
<circle cx="127.4" cy="396.2" r="7.4" fill="#ff0000" stroke="#c00000" stroke-width="1"/>
<circle cx="159.3" cy="395.4" r="7.4" fill="#ff0000" stroke="#c00000" stroke-width="1"/>
<circle cx="191.2" cy="393.4" r="7.4" fill="#ff0000" stroke="#c00000" stroke-width="1"/>
<circle cx="223.1" cy="390.0" r="7.4" fill="#ff0000" stroke="#c00000" stroke-width="1"/>
<circle cx="255.0" cy="391.5" r="7.4" fill="#ff0000" stroke="#c00000" stroke-width="1"/>
<circle cx="286.9" cy="385.0" r="7.4" fill="#ff0000" stroke="#c00000" stroke-width="1"/>
<circle cx="318.8" cy="387.0" r="7.4" fill="#ff0000" stroke="#c00000" stroke-width="1"/>
<circle cx="350.7" cy="383.3" r="7.4" fill="#ff0000" stroke="#c00000" stroke-width="1"/>
<circle cx="382.6" cy="377.2" r="7.4" fill="#ff0000" stroke="#c00000" stroke-width="1"/>
<circle cx="414.5" cy="375.0" r="7.4" fill="#ff0000" stroke="#c00000" stroke-width="1"/>
<circle cx="446.4" cy="371.7" r="7.4" fill="#ff0000" stroke="#c00000" stroke-width="1"/>
<circle cx="478.3" cy="357.0" r="7.4" fill="#ff0000" stroke="#c00000" stroke-width="1"/>
<circle cx="510.2" cy="342.9" r="7.4" fill="#ff0000" stroke="#c00000" stroke-width="1"/>
<circle cx="542.1" cy="331.9" r="7.4" fill="#ff0000" stroke="#c00000" stroke-width="1"/>
<circle cx="574.0" cy="307.2" r="7.4" fill="#ff0000" stroke="#c00000" stroke-width="1"/>
<circle cx="605.9" cy="292.0" r="7.4" fill="#ff0000" stroke="#c00000" stroke-width="1"/>
<circle cx="637.8" cy="264.0" r="7.4" fill="#ff0000" stroke="#c00000" stroke-width="1"/>
<circle cx="669.7" cy="236.4" r="7.4" fill="#ff0000" stroke="#c00000" stroke-width="1"/>
<circle cx="701.6" cy="197.5" r="7.4" fill="#ff0000" stroke="#c00000" stroke-width="1"/>
<circle cx="733.5" cy="216.2" r="7.4" fill="#ff0000" stroke="#c00000" stroke-width="1"/>
</g>
<line x1="94.7" y1="402.9" x2="734.5" y2="402.9" stroke="#000" stroke-width="2"/>
<text x="16.25" y="20.70" text-anchor="start" fill="#000" textLength="63.56" lengthAdjust="spacingAndGlyphs">1,000</text>
<text x="38.55" y="220.60" text-anchor="start" fill="#000" textLength="41.32" lengthAdjust="spacingAndGlyphs">500</text>
<text x="67.54" y="422.00" text-anchor="start" fill="#000" textLength="13.91" lengthAdjust="spacingAndGlyphs">0</text>
<text x="86.06" y="447.70" text-anchor="start" fill="#000" textLength="13.88" lengthAdjust="spacingAndGlyphs">0</text>
<text x="152.16" y="447.70" text-anchor="start" fill="#000" textLength="13.88" lengthAdjust="spacingAndGlyphs">2</text>
<text x="216.26" y="447.70" text-anchor="start" fill="#000" textLength="13.88" lengthAdjust="spacingAndGlyphs">4</text>
<text x="280.76" y="447.70" text-anchor="start" fill="#000" textLength="13.88" lengthAdjust="spacingAndGlyphs">6</text>
<text x="344.56" y="447.70" text-anchor="start" fill="#000" textLength="13.88" lengthAdjust="spacingAndGlyphs">8</text>
<text x="401.17" y="447.70" text-anchor="start" fill="#000" textLength="27.76" lengthAdjust="spacingAndGlyphs">10</text>
<text x="465.17" y="447.70" text-anchor="start" fill="#000" textLength="27.76" lengthAdjust="spacingAndGlyphs">12</text>
<text x="529.17" y="447.70" text-anchor="start" fill="#000" textLength="27.76" lengthAdjust="spacingAndGlyphs">14</text>
<text x="593.17" y="447.70" text-anchor="start" fill="#000" textLength="27.76" lengthAdjust="spacingAndGlyphs">16</text>
<text x="657.17" y="447.70" text-anchor="start" fill="#000" textLength="27.76" lengthAdjust="spacingAndGlyphs">18</text>
<text x="721.17" y="447.70" text-anchor="start" fill="#000" textLength="27.76" lengthAdjust="spacingAndGlyphs">20</text>
<text x="268.82" y="86.70" text-anchor="start" fill="#000" textLength="82.07" lengthAdjust="spacingAndGlyphs">Control</text>
<text x="210.92" y="489.70" text-anchor="start" fill="#000" textLength="58.51" lengthAdjust="spacingAndGlyphs">Days</text>
<text x="277.34" y="489.70" text-anchor="start" fill="#000" textLength="50.19" lengthAdjust="spacingAndGlyphs">after</text>
<text x="336.06" y="489.70" text-anchor="start" fill="#000" textLength="93.93" lengthAdjust="spacingAndGlyphs">Injection</text>
<text x="438.32" y="489.70" text-anchor="start" fill="#000" textLength="21.17" lengthAdjust="spacingAndGlyphs">of</text>
<text x="467.49" y="489.70" text-anchor="start" fill="#000" textLength="88.33" lengthAdjust="spacingAndGlyphs">Plasmid</text>
<text x="566.44" y="489.70" text-anchor="start" fill="#000" textLength="124.68" lengthAdjust="spacingAndGlyphs">Complexes</text>
<text transform="translate(21,277.3) rotate(-90)" fill="#000" textLength="207" lengthAdjust="spacingAndGlyphs">Tumor Size (mm<tspan font-size="17" dy="-7.5">3</tspan><tspan dy="7.5">)</tspan></text>
<text x="799.84" y="102.00" text-anchor="start" fill="#1e14aa" textLength="58.21" lengthAdjust="spacingAndGlyphs">IL-12</text>
<text x="865.14" y="102.00" text-anchor="start" fill="#1e14aa" textLength="45.77" lengthAdjust="spacingAndGlyphs">only</text>
<text x="799.44" y="200.30" text-anchor="start" fill="#d01818" textLength="90.25" lengthAdjust="spacingAndGlyphs">ESAT-6</text>
<text x="897.65" y="200.30" text-anchor="start" fill="#d01818" textLength="45.27" lengthAdjust="spacingAndGlyphs">only</text>
<text x="800.19" y="243.10" text-anchor="start" fill="#dc28dc" textLength="163.03" lengthAdjust="spacingAndGlyphs">ESAT-6+IL-12</text>
<text x="969.94" y="243.10" text-anchor="start" fill="#dc28dc" textLength="52.72" lengthAdjust="spacingAndGlyphs">(4:1)</text>
<text x="800.19" y="306.50" text-anchor="start" fill="#007a1e" textLength="163.03" lengthAdjust="spacingAndGlyphs">ESAT-6+IL-12</text>
<text x="969.94" y="306.50" text-anchor="start" fill="#007a1e" textLength="52.19" lengthAdjust="spacingAndGlyphs">(2:3)</text>
<text x="800.19" y="364.40" text-anchor="start" fill="#6e2896" textLength="163.03" lengthAdjust="spacingAndGlyphs">ESAT-6+IL-12</text>
<text x="969.94" y="364.40" text-anchor="start" fill="#6e2896" textLength="52.19" lengthAdjust="spacingAndGlyphs">(1:4)</text>
<text x="800.19" y="405.00" text-anchor="start" fill="#f06e1e" textLength="163.03" lengthAdjust="spacingAndGlyphs">ESAT-6+IL-12</text>
<text x="969.94" y="405.00" text-anchor="start" fill="#f06e1e" textLength="52.19" lengthAdjust="spacingAndGlyphs">(3:2)</text>
<polygon points="745.30,91.10 765.54,101.47 759.21,93.34 793.91,93.20 793.89,88.60 759.19,88.74 765.46,80.57" fill="#0000d8"/>
<polygon points="745.30,211.60 767.99,213.18 758.93,208.10 793.37,193.22 791.63,189.18 757.19,204.07 759.70,193.99" fill="#ff1010"/>
<polygon points="747.40,227.70 766.16,240.56 760.92,231.60 792.23,235.48 792.77,231.12 761.47,227.23 768.73,219.82" fill="#ff10ff"/>
<polygon points="746.40,297.00 766.60,307.45 760.30,299.10 792.70,299.10 792.70,294.90 760.30,294.90 766.60,286.55" fill="#00851a"/>
<polygon points="745.70,361.00 766.87,369.30 759.75,361.75 792.93,358.29 792.47,353.91 759.30,357.37 764.71,348.51" fill="#7030a0"/>
<polygon points="745.70,391.90 765.07,403.82 759.40,395.13 792.54,397.59 792.86,393.21 759.72,390.74 766.62,382.98" fill="#ff6a10"/>
</svg>
</body></html>
